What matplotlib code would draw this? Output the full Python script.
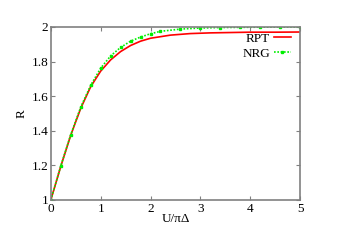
import numpy as np
import matplotlib
matplotlib.use("Agg")
import matplotlib.pyplot as plt

# RPT curve
rptU = [0.0, 0.2, 0.4, 0.6, 0.8, 1.0, 1.2, 1.4, 1.6, 1.8, 2.0, 2.4, 2.8,
        3.2, 3.6, 4.0, 4.5, 5.0]
rptR = [1.0, 1.195, 1.375, 1.53, 1.655, 1.745, 1.81, 1.858, 1.893, 1.918,
        1.935, 1.953, 1.962, 1.966, 1.968, 1.970, 1.970, 1.971]

# NRG points
nrgU = [0.0, 0.2, 0.4, 0.6, 0.8, 1.0, 1.2, 1.4, 1.6, 1.8, 2.0, 2.2, 2.6,
        3.0, 3.4, 3.8, 4.2, 4.6, 5.0]
nrgR = [1.0, 1.197, 1.378, 1.537, 1.663, 1.762, 1.833, 1.882, 1.918, 1.942,
        1.961, 1.975, 1.988, 1.994, 1.997, 1.998, 1.999, 2.0, 2.0]

xTicks = [0, 1, 2, 3, 4, 5]
yTicks = [1, 1.2, 1.4, 1.6, 1.8, 2]
yTickLabels = ["1", "1.2", "1.4", "1.6", "1.8", "2"]


def main():
    plt.rcParams["font.family"] = ["Liberation Serif", "DejaVu Serif"]
    plt.rcParams["font.size"] = 9.5

    fig = plt.figure(figsize=(3.39, 2.40), dpi=100)
    ax = fig.add_axes([0.150, 0.167, 0.735, 0.7205])

    ax.plot(rptU, rptR, color="#ff0000", lw=1.2, label="RPT")
    ax.plot(nrgU, nrgR, color="#00ee00", lw=1.2, ls=(0, (1, 1)),
            marker="s", ms=1.6, label="NRG")

    ax.set_xlim(0, 5)
    ax.set_ylim(1, 2)
    ax.set_xticks(xTicks)
    ax.set_yticks(yTicks)
    ax.set_yticklabels(yTickLabels)
    ax.tick_params(direction="in", length=3, color="#808080", width=0.8,
                   top=True, right=True, pad=2)
    for s in ax.spines.values():
        s.set_color("#808080")
        s.set_linewidth(1.2)

    ax.set_xlabel("U/\u03c0\u0394", labelpad=-1)
    ax.set_ylabel("R", labelpad=3)

    ax.legend(loc="upper right", frameon=False, markerfirst=False,
              handlelength=1.3, handletextpad=0.3, labelspacing=0.25,
              borderaxespad=0.0, bbox_to_anchor=(0.985, 1.0))

    fig.savefig("out.png", dpi=100)


if (__name__ == "__main__"):
    main()
